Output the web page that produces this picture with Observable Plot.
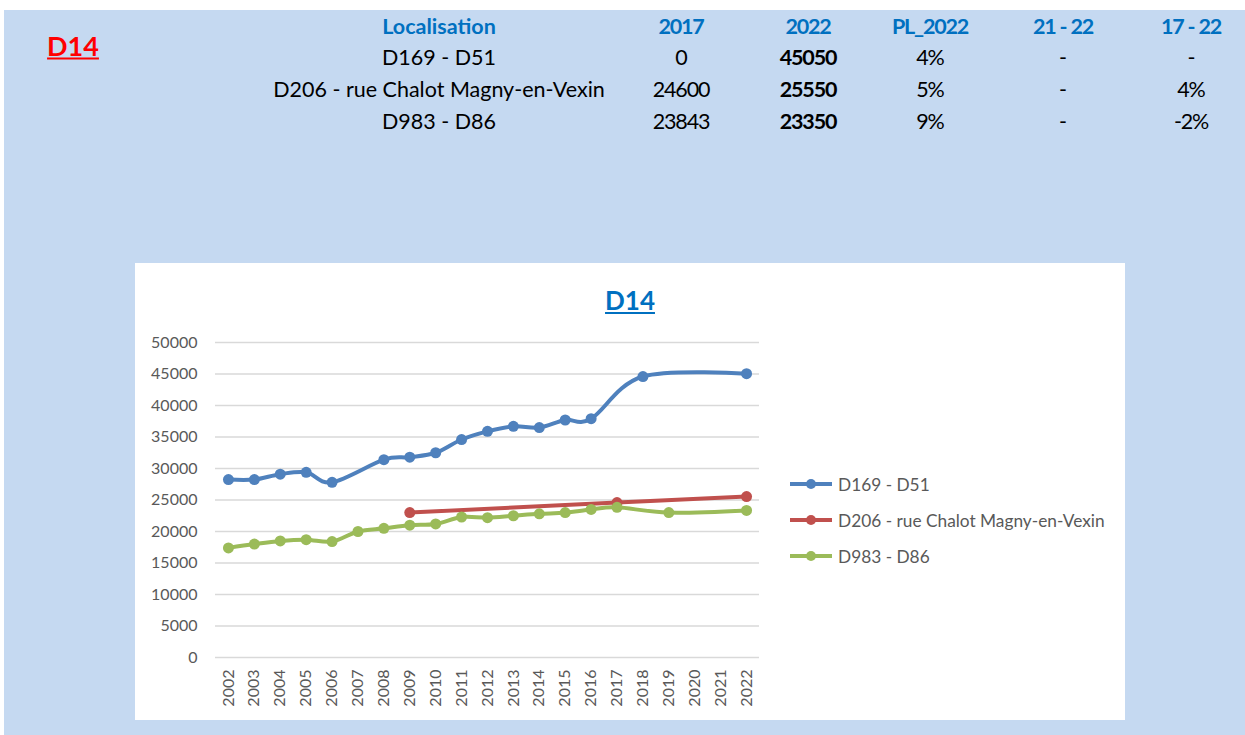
<!DOCTYPE html>
<html><head><meta charset="utf-8">
<script src="https://cdn.jsdelivr.net/npm/d3@7"></script>
<script src="https://cdn.jsdelivr.net/npm/@observablehq/plot@0.6"></script>
<style>
body{margin:0;width:1245px;height:735px;overflow:hidden;background:#fff;font-family:Lato,"Open Sans",sans-serif;position:relative}
#bg{position:absolute;left:4px;top:10px;width:1241px;height:725px;background:#C5D9F1}
.t{position:absolute;transform:translate(-50%,-50%);white-space:nowrap;font-size:21.5px;color:#000;line-height:1}
.n{letter-spacing:-1.2px}
.h{color:#0070C0;font-weight:bold}
.b{font-weight:bold}
#box{position:absolute;left:135px;top:263px;width:990px;height:457px;background:#fff}
#box svg{position:absolute;left:0;top:0}
.lg{position:absolute;left:655px;height:20px;display:flex;align-items:center;font-size:17.3px;color:#595959;white-space:nowrap}
.lg svg{position:static!important;margin-right:6px}
</style></head>
<body>
<div id="bg"></div>
<div id="page"></div>
<div id="box"></div>
<script>
// ---- data ----
const tableHeaders = ["Localisation", "2017", "2022", "PL_2022", "21 - 22", "17 - 22"];
const locations = ["D169 - D51", "D206 - rue Chalot Magny-en-Vexin", "D983 - D86"];
const val2017 = ["0", "24600", "23843"];
const val2022 = ["45050", "25550", "23350"];
const pl2022 = ["4%", "5%", "9%"];
const var2122 = ["-", "-", "-"];
const var1722 = ["-", "4%", "-2%"];

const years = [2002,2003,2004,2005,2006,2007,2008,2009,2010,2011,2012,2013,2014,2015,2016,2017,2018,2019,2020,2021,2022];
const seriesNames = ["D169 - D51", "D206 - rue Chalot Magny-en-Vexin", "D983 - D86"];
const seriesColors = ["#4F81BD", "#C0504D", "#9BBB59"];
const d169 = [28250, 28250, 29100, 29400, 27800, null, 31400, 31800, 32500, 34600, 35900, 36700, 36500, 37700, 37900, null, 44600, null, null, null, 45050];
const d206 = [null, null, null, null, null, null, null, 23000, null, null, null, null, null, null, null, 24600, null, null, null, null, 25550];
const d983 = [17400, 18000, 18500, 18700, 18400, 20000, 20500, 21000, 21200, 22300, 22200, 22500, 22800, 23000, 23500, 23843, null, 23000, null, null, 23350];
const yTicks = [0, 5000, 10000, 15000, 20000, 25000, 30000, 35000, 40000, 45000, 50000];

// ---- page header/table ----
const page = document.getElementById("page");
function txt(s, x, y, cls, extra){
  const d = document.createElement("div");
  d.className = "t " + (cls||"");
  d.textContent = s;
  d.style.left = x + "px"; d.style.top = y + "px";
  if (extra) Object.assign(d.style, extra);
  page.appendChild(d);
}
txt("D14", 73, 45, "", {color:"#FF0000", fontWeight:"bold", fontSize:"27px", textDecoration:"underline"});
const colX = [439, 681, 808, 930, 1063, 1191];
const rowY = [58, 90, 122];
tableHeaders.forEach((h,i)=>txt(h, colX[i], 27, "h" + (i>0 ? " n" : "")));
locations.forEach((l,r)=>{
  txt(l, colX[0], rowY[r]);
  txt(val2017[r], colX[1], rowY[r], "n");
  txt(val2022[r], colX[2], rowY[r], "b n");
  txt(pl2022[r], colX[3], rowY[r], "n");
  txt(var2122[r], colX[4], rowY[r]);
  txt(var1722[r], colX[5], rowY[r], "n");
});

// ---- chart ----
const rows = [];
[d169, d206, d983].forEach((s,i)=> s.forEach((v,j)=>{ if (v != null) rows.push({year: years[j], value: v, serie: seriesNames[i]}); }));

const box = document.getElementById("box");
const chart = Plot.plot({
  width: 990, height: 457,
  marginLeft: 80, marginRight: 366, marginTop: 79, marginBottom: 63,
  style: {fontFamily: "Lato, sans-serif", fontSize: "16px", color: "#595959", background: "transparent"},
  x: {type: "linear", domain: [2001.5, 2022.5], ticks: years, tickFormat: d => String(d), label: null, tickSize: 0, tickRotate: -90, tickPadding: 12},
  y: {domain: [0, 50000], ticks: yTicks, tickFormat: d => String(d), label: null, tickSize: 0, tickPadding: 18},
  color: {domain: seriesNames, range: seriesColors},
  marks: [
    Plot.ruleY(yTicks, {stroke: "#D9D9D9", strokeWidth: 1.3}),
    Plot.line(rows, {x: "year", y: "value", z: "serie", stroke: "serie", strokeWidth: 4, curve: "cardinal"}),
    Plot.dot(rows, {x: "year", y: "value", fill: "serie", r: 5.5})
  ]
});
box.appendChild(chart);

// chart title
const title = document.createElement("div");
title.className = "t";
title.textContent = "D14";
Object.assign(title.style, {left: "495px", top: "37px", color: "#0070C0", fontWeight: "bold", fontSize: "26px", textDecoration: "underline"});
box.appendChild(title);

// legend
const legY = [221, 257, 293];
seriesNames.forEach((n,i)=>{
  const d = document.createElement("div");
  d.className = "lg";
  d.style.top = (legY[i] - 10) + "px";
  d.innerHTML = `<svg width="42" height="12"><line x1="0" x2="42" y1="6" y2="6" stroke="${seriesColors[i]}" stroke-width="4"/><circle cx="21" cy="6" r="5" fill="${seriesColors[i]}"/></svg><span></span>`;
  d.querySelector("span").textContent = n;
  box.appendChild(d);
});
</script>
</body></html>
